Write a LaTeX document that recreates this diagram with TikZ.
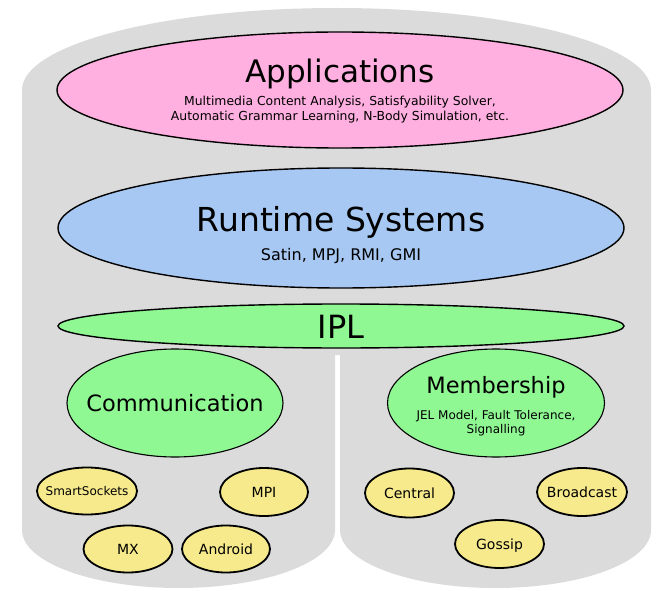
\documentclass[tikz,border=0pt]{standalone}
\usepackage{fontspec}
\setmainfont{DejaVu Sans}
\usetikzlibrary{shapes.geometric}

\definecolor{bodygray}{HTML}{DADBDA}
\definecolor{apppink}{HTML}{FFB0E0}
\definecolor{rtblue}{HTML}{A6C8F2}
\definecolor{iplgreen}{HTML}{8FF893}
\definecolor{implyellow}{HTML}{F6EA8C}

\newcommand{\fs}[2]{\fontsize{#1}{#2}\selectfont}

\tikzset{
  layer/.style={ellipse, draw=black, line width=1.4pt, inner sep=0pt},
  impl/.style={ellipse, draw=black, line width=1.8pt, fill=implyellow, inner sep=0pt},
  title/.style={anchor=base, inner sep=0pt},
  impltext/.style={anchor=base, inner sep=0pt, font=\fs{14}{16}},
}

\begin{document}
\begin{tikzpicture}[x=1pt, y=1pt]
  \useasboundingbox (0,0) rectangle (658,590);

  % grey stack body, split into two columns at the bottom
  \fill[bodygray]
    (22,500) arc[start angle=180, end angle=0, x radius=314.5, y radius=82]
    -- (651,60) arc[start angle=0, end angle=-180, x radius=155.5, y radius=58]
    -- (340,235) -- (335,235)
    -- (335,60) arc[start angle=0, end angle=-180, x radius=156.5, y radius=58]
    -- cycle;

  % application layer
  \node[layer, fill=apppink, minimum width=566, minimum height=116] (app) at (340,500) {};
  \node[title, font=\fs{31}{36}] (apptitle) at (340,507) {Applications};
  \node[title, align=center, font=\fs{12.4}{15}] (appsub) at (340,469.5)
    {Multimedia Content Analysis, Satisfyability Solver,\\Automatic Grammar Learning, N-Body Simulation, etc.};

  % runtime systems layer
  \node[layer, fill=rtblue, minimum width=566, minimum height=120] (rts) at (341,362) {};
  \node[title, font=\fs{33}{38}] (rtstitle) at (341,359) {Runtime Systems};
  \node[title, font=\fs{16}{19}] (rtssub) at (341,330) {Satin, MPJ, RMI, GMI};

  % IPL layer
  \node[layer, fill=iplgreen, minimum width=566, minimum height=44] (ipl) at (341,264) {};
  \node[title, font=\fs{32}{36}] (ipltitle) at (341,252) {IPL};

  % communication branch
  \node[layer, line width=1.1pt, fill=iplgreen, minimum width=216, minimum height=108] (comm) at (175,187) {};
  \node[title, font=\fs{22.5}{26}] (commtitle) at (175,179) {Communication};
  \node[impl, minimum width=100, minimum height=47] (ss) at (87,99) {};
  \node[impltext, font=\fs{12}{14}] (sstext) at (87,94.5) {SmartSockets};
  \node[impl, minimum width=88, minimum height=48] (mpi) at (264,98) {};
  \node[impltext] (mpitext) at (264,93) {MPI};
  \node[impl, minimum width=89, minimum height=47] (mx) at (128,41) {};
  \node[impltext] (mxtext) at (128,36) {MX};
  \node[impl, minimum width=88, minimum height=47] (android) at (226,41) {};
  \node[impltext] (androidtext) at (226,36) {Android};

  % membership branch
  \node[layer, line width=1.1pt, fill=iplgreen, minimum width=217, minimum height=108] (memb) at (496,187) {};
  \node[title, font=\fs{22.5}{26}] (membtitle) at (496,197) {Membership};
  \node[title, align=center, font=\fs{12}{14}] (membsub) at (496,157)
    {JEL Model, Fault Tolerance,\\Signalling};
  \node[impl, minimum width=89, minimum height=49] (central) at (409.5,97) {};
  \node[impltext] (centraltext) at (409.5,92) {Central};
  \node[impl, minimum width=90, minimum height=48] (bcast) at (582,98) {};
  \node[impltext] (bcasttext) at (582,93) {Broadcast};
  \node[impl, minimum width=89, minimum height=48] (gossip) at (499.5,46) {};
  \node[impltext] (gossiptext) at (499.5,41) {Gossip};
\end{tikzpicture}
\end{document}
